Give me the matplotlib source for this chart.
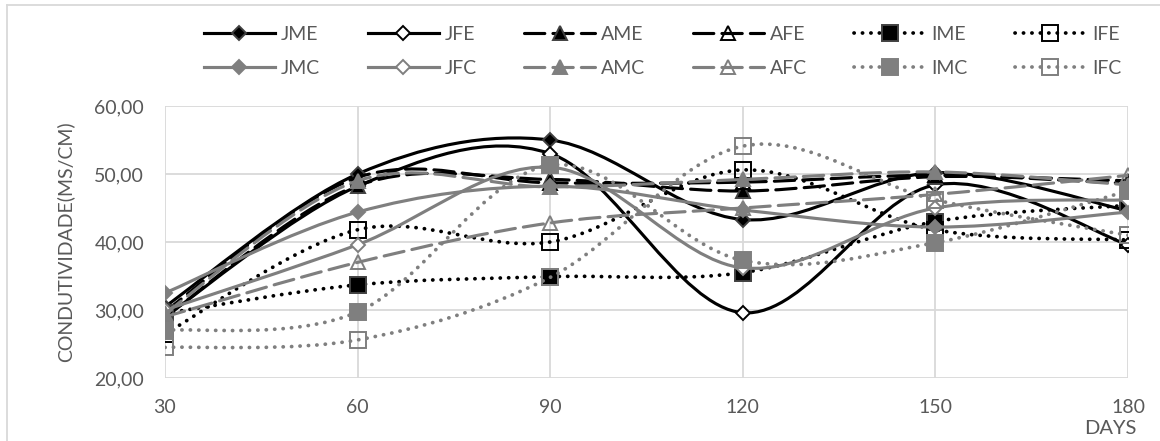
import numpy as np
import matplotlib
matplotlib.use("Agg")
import matplotlib.pyplot as plt
from matplotlib.path import Path
from matplotlib.patches import PathPatch
from matplotlib.lines import Line2D
from matplotlib.ticker import FuncFormatter

plt.rcParams['font.family'] = ['Lato', 'DejaVu Sans']

# valores
days = [30, 60, 90, 120, 150, 180]
JME = [30.5, 50.0, 55.0, 43.3, 50.2, 44.6]
JFE = [29.0, 48.2, 53.0, 29.6, 48.4, 39.6]
AME = [29.0, 48.3, 49.2, 47.5, 49.6, 49.0]
AFE = [29.8, 49.5, 48.7, 48.8, 49.8, 48.6]
IME = [29.5, 33.7, 34.9, 35.5, 43.0, 45.4]
IFE = [26.5, 41.8, 40.0, 50.6, 41.8, 40.3]
JMC = [32.5, 44.4, 48.2, 44.7, 42.2, 44.4]
JFC = [30.0, 39.6, 51.0, 36.2, 45.0, 46.2]
AMC = [29.5, 49.0, 48.1, 49.2, 50.3, 48.4]
AFC = [29.0, 37.0, 42.8, 45.0, 47.0, 49.8]
IMC = [27.0, 29.7, 51.3, 37.3, 39.9, 47.5]
IFC = [24.5, 25.6, 34.8, 54.1, 46.2, 41.0]
y_ticks = [20, 30, 40, 50, 60]

BLACK = '#000000'
GRAY = '#7f7f7f'
SOLID = '-'
DASH = (0, (6.5, 2.6))
DOT = (0, (0.05, 2.2))

# nome, valores, cor, linha, marcador, preenchido
series = [
    ("JME", JME, BLACK, SOLID, 'D', True),
    ("JFE", JFE, BLACK, SOLID, 'D', False),
    ("AME", AME, BLACK, DASH, '^', True),
    ("AFE", AFE, BLACK, DASH, '^', False),
    ("IME", IME, BLACK, DOT, 's', True),
    ("IFE", IFE, BLACK, DOT, 's', False),
    ("JMC", JMC, GRAY, SOLID, 'D', True),
    ("JFC", JFC, GRAY, SOLID, 'D', False),
    ("AMC", AMC, GRAY, DASH, '^', True),
    ("AFC", AFC, GRAY, DASH, '^', False),
    ("IMC", IMC, GRAY, DOT, 's', True),
    ("IFC", IFC, GRAY, DOT, 's', False),
]
msizes = {'D': 7, '^': 9.5, 's': 11}


def smooth_path(x, y):
    # curva suavizada tipo Excel (Bezier Catmull-Rom)
    pts = np.column_stack([x, y]).astype(float)
    n = len(pts)
    verts = [pts[0]]
    codes = [Path.MOVETO]
    for i in range(n - 1):
        p0 = pts[max(i - 1, 0)]
        p1 = pts[i]
        p2 = pts[i + 1]
        p3 = pts[min(i + 2, n - 1)]
        verts += [p1 + (p2 - p0) / 6, p2 - (p3 - p1) / 6, p2]
        codes += [Path.CURVE4] * 3
    return Path(verts, codes)


def marker_kw(color, marker, filled):
    if filled:
        edge = '#404040' if color == BLACK else color
        face = color
    else:
        edge = color
        face = 'white' if marker == 'D' else 'none'
    return dict(marker=marker, markersize=msizes[marker], markerfacecolor=face,
                markeredgecolor=edge, markeredgewidth=1.4)


fig = plt.figure(figsize=(11.6, 4.41), dpi=100)
ax = fig.add_axes([165 / 1160, 1 - 378 / 441, 963 / 1160, 272 / 441])

handles = {}
z = 3
for name, vals, color, ls, marker, filled in series:
    lw = 2.7 if ls == DOT else 2.25
    patch = PathPatch(smooth_path(days, vals), facecolor='none', edgecolor=color,
                      lw=lw, linestyle=ls, capstyle='round', joinstyle='round', zorder=z)
    ax.add_patch(patch)
    ax.plot(days, vals, linestyle='none', zorder=z + 0.5, **marker_kw(color, marker, filled))
    handles[name] = Line2D([], [], color=color, lw=lw, linestyle=ls,
                           dash_capstyle='round', **marker_kw(color, marker, filled))
    z += 1

ax.set_xlim(30, 180)
ax.set_ylim(20, 60)
ax.set_xticks(days)
ax.set_yticks(y_ticks)
ax.yaxis.set_major_formatter(FuncFormatter(lambda v, p: f"{v:.2f}".replace('.', ',')))
ax.grid(True, color='#d9d9d9', lw=1.3, zorder=0)
ax.set_axisbelow(True)
for s in ax.spines.values():
    s.set_visible(False)
ax.tick_params(length=0, labelsize=14, labelcolor='#595959')
ax.tick_params(axis='x', pad=15)
ax.tick_params(axis='y', pad=15)
ax.set_ylabel("CONDUTIVIDADE(MS/CM)", fontsize=14, color='#595959')
ax.yaxis.set_label_coords(-0.094, 0.5)

fig.text(1110 / 1160, 1 - 428 / 441, "DAYS", fontsize=14.5, color='#595959',
         ha='center', va='center')

# borda da área do gráfico
fig.add_artist(Line2D([7 / 1160, 7 / 1160], [0, 1 - 5 / 441], color='#d9d9d9', lw=1.3))
fig.add_artist(Line2D([7 / 1160, 1], [1 - 5 / 441, 1 - 5 / 441], color='#d9d9d9', lw=1.3))

order = ["JME", "JMC", "JFE", "JFC", "AME", "AMC", "AFE", "AFC", "IME", "IMC", "IFE", "IFC"]
fig.legend([handles[k] for k in order], order, ncol=6, loc='upper left',
           bbox_to_anchor=(204 / 1160, 1 - 26 / 441), frameon=False, fontsize=14,
           labelcolor='#595959', handlelength=3.65, handletextpad=0.3,
           columnspacing=2.45, labelspacing=0.85, borderpad=0, borderaxespad=0)

fig.savefig("out.png", dpi=100)
